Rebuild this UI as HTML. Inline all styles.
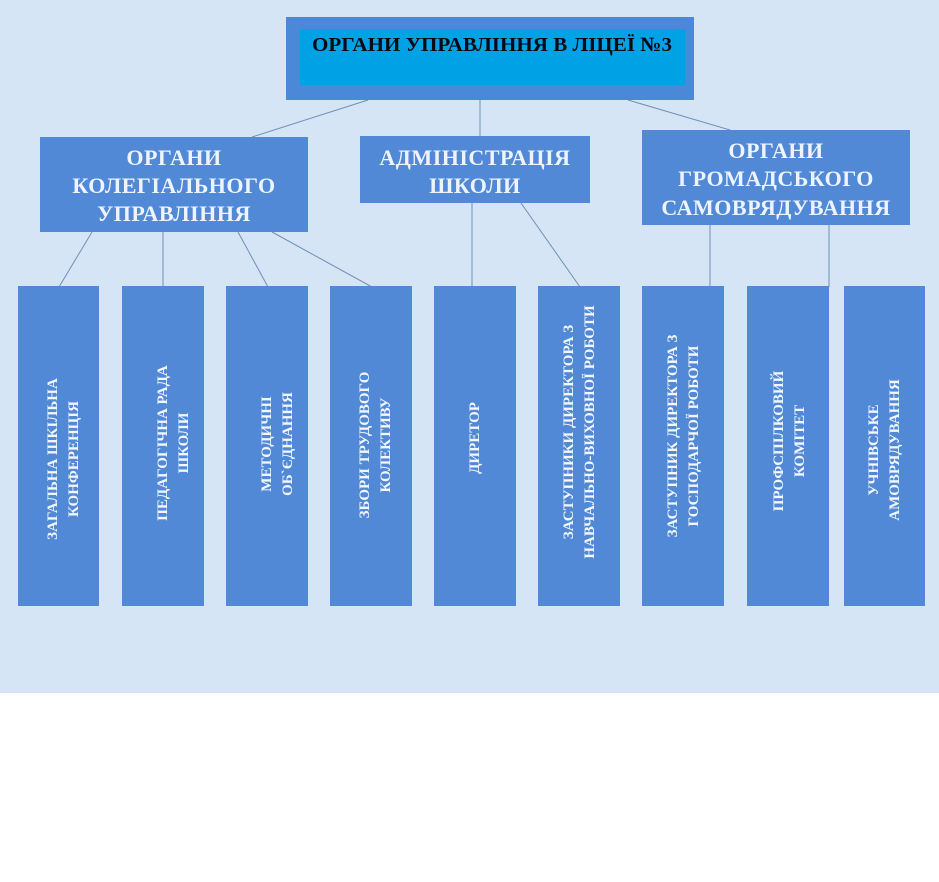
<!DOCTYPE html>
<html><head><meta charset="utf-8"><style>
html,body{margin:0;padding:0;background:#fff;}
svg{display:block;}
text{font-family:"Liberation Serif",serif;font-weight:bold;}
</style></head><body>
<svg width="939" height="882" viewBox="0 0 939 882" xmlns="http://www.w3.org/2000/svg">
<rect x="0" y="0" width="939" height="693" fill="#d5e5f5"/>
<g stroke="#6f8fb8" stroke-width="1" fill="none">
<line x1="368" y1="100" x2="252" y2="137"/>
<line x1="480" y1="100" x2="480" y2="136"/>
<line x1="628" y1="100" x2="730" y2="130"/>
<line x1="92" y1="232" x2="59" y2="287"/>
<line x1="163" y1="232" x2="163" y2="287"/>
<line x1="238" y1="232" x2="268" y2="287"/>
<line x1="272" y1="232" x2="372" y2="287"/>
<line x1="472" y1="203" x2="472" y2="287"/>
<line x1="521" y1="203" x2="580" y2="287"/>
<line x1="710" y1="225" x2="710" y2="287"/>
<line x1="829" y1="225" x2="829" y2="287"/>
</g>
<rect x="286" y="17" width="408" height="83" fill="#4c88d8"/>
<rect x="300" y="29" width="385" height="56" fill="#00a2e6"/>
<text x="492" y="51" font-size="20.5" text-anchor="middle" fill="#0a0a14" textLength="360" lengthAdjust="spacingAndGlyphs">ОРГАНИ УПРАВЛІННЯ В ЛІЦЕЇ №3</text>

<g fill="#5189d6">
<rect x="40" y="137" width="268" height="95"/>
<rect x="360" y="136" width="230" height="67"/>
<rect x="642" y="130" width="268" height="95"/>
<rect x="18" y="286" width="81" height="320"/>
<rect x="122" y="286" width="82" height="320"/>
<rect x="226" y="286" width="82" height="320"/>
<rect x="330" y="286" width="82" height="320"/>
<rect x="434" y="286" width="82" height="320"/>
<rect x="538" y="286" width="82" height="320"/>
<rect x="642" y="286" width="82" height="320"/>
<rect x="747" y="286" width="82" height="320"/>
<rect x="844" y="286" width="81" height="320"/>
</g>
<g fill="#eef4ff" font-size="22" text-anchor="middle" letter-spacing="0.5">
<text x="174" y="165">ОРГАНИ</text>
<text x="174" y="193">КОЛЕГІАЛЬНОГО</text>
<text x="174" y="221">УПРАВЛІННЯ</text>
<text x="475" y="165">АДМІНІСТРАЦІЯ</text>
<text x="475" y="193">ШКОЛИ</text>
<text x="776" y="158">ОРГАНИ</text>
<text x="776" y="186">ГРОМАДСЬКОГО</text>
<text x="776" y="215">САМОВРЯДУВАННЯ</text>
</g>
<g fill="#f2f6ff" font-size="15" text-anchor="middle">
<text transform="translate(57,459) rotate(-90)">ЗАГАЛЬНА ШКІЛЬНА</text>
<text transform="translate(78,459) rotate(-90)">КОНФЕРЕНЦІЯ</text>
<text transform="translate(167,443) rotate(-90)">ПЕДАГОГІЧНА РАДА</text>
<text transform="translate(188,443) rotate(-90)">ШКОЛИ</text>
<text transform="translate(271,444) rotate(-90)">МЕТОДИЧНІ</text>
<text transform="translate(292,444) rotate(-90)">ОБ`ЄДНАННЯ</text>
<text transform="translate(369,445) rotate(-90)">ЗБОРИ ТРУДОВОГО</text>
<text transform="translate(390,445) rotate(-90)">КОЛЕКТИВУ</text>
<text transform="translate(479,438) rotate(-90)">ДИРЕТОР</text>
<text transform="translate(573,432) rotate(-90)">ЗАСТУПНИКИ  ДИРЕКТОРА З</text>
<text transform="translate(594,432) rotate(-90)">НАВЧАЛЬНО-ВИХОВНОЇ РОБОТИ</text>
<text transform="translate(677,436) rotate(-90)">ЗАСТУПНИК ДИРЕКТОРА З</text>
<text transform="translate(698,436) rotate(-90)">ГОСПОДАРЧОЇ  РОБОТИ</text>
<text transform="translate(783,441) rotate(-90)">ПРОФСПІЛКОВИЙ</text>
<text transform="translate(804,441) rotate(-90)">КОМІТЕТ</text>
<text transform="translate(878,450) rotate(-90)">УЧНІВСЬКЕ</text>
<text transform="translate(899,450) rotate(-90)">АМОВРЯДУВАННЯ</text>
</g>
</svg>
</body></html>
